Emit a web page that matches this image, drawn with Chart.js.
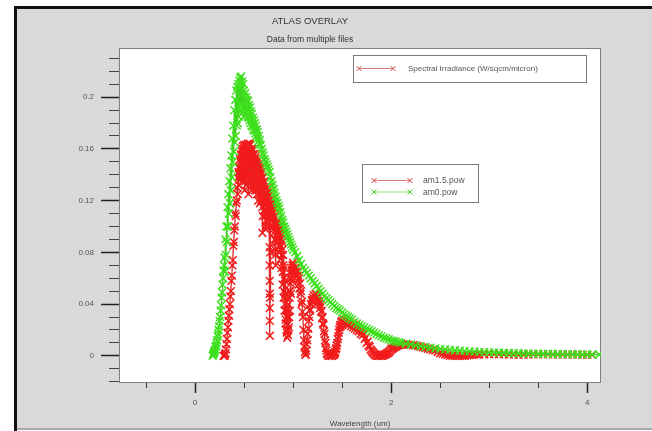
<!DOCTYPE html>
<html><head><meta charset="utf-8">
<script src="https://cdn.jsdelivr.net/npm/chart.js@4"></script>
<style>html,body{margin:0;padding:0;background:#fff;}canvas{display:block;}</style>
</head><body>
<canvas id="c" width="652" height="431"></canvas>
<script>
// ---------- DATA ----------
const chartTitle = 'ATLAS OVERLAY';
const chartSubtitle = 'Data from multiple files';
const xAxisTitle = 'Wavelength (um)';
const legendTopText = 'Spectral Irradiance (W/sqcm/micron)';
const seriesNames = ['am1.5.pow', 'am0.pow'];

const xTickValues = [0, 2, 4];
const xTickLabels = ['0', '2', '4'];
const xMinorTickValues = [-0.5, 0, 0.5, 1, 1.5, 2, 2.5, 3, 3.5, 4];
const yTickValues = [0, 0.04, 0.08, 0.12, 0.16, 0.2];
const yTickLabels = ['0', '0.04', '0.08', '0.12', '0.16', '0.2'];
const yMinorTickValues = [-0.02, -0.01, 0, 0.01, 0.02, 0.03, 0.04, 0.05, 0.06, 0.07, 0.08, 0.09, 0.1, 0.11, 0.12, 0.13, 0.14, 0.15, 0.16, 0.17, 0.18, 0.19, 0.2, 0.21, 0.22, 0.23];

// am1.5 spectrum (red): [wavelength um, irradiance]
const am15Points = [
[0.29,0],[0.30,0],[0.305,0.001],[0.31,0.002],[0.315,0.005],[0.32,0.009],[0.325,0.013],[0.33,0.018],[0.335,0.022],[0.34,0.027],
[0.345,0.031],[0.35,0.036],[0.355,0.04],[0.36,0.046],[0.365,0.05],[0.37,0.058],[0.375,0.062],[0.38,0.07],[0.385,0.074],[0.39,0.085],
[0.395,0.088],[0.40,0.097],[0.405,0.1],[0.41,0.11],[0.415,0.108],[0.42,0.118],[0.425,0.12],[0.43,0.13],[0.435,0.125],
[0.44,0.138],[0.4425,0.142],[0.445,0.132],[0.4475,0.146],[0.45,0.145],[0.4525,0.136],[0.455,0.14],[0.4575,0.152],[0.46,0.15],[0.4625,0.138],
[0.465,0.145],[0.4675,0.156],[0.47,0.155],[0.4725,0.14],[0.475,0.148],[0.4775,0.16],[0.48,0.158],[0.4825,0.135],[0.485,0.15],[0.4875,0.162],
[0.49,0.16],[0.4925,0.138],[0.495,0.145],[0.4975,0.163],[0.50,0.158],[0.5025,0.14],[0.505,0.128],[0.5075,0.155],[0.51,0.16],[0.5125,0.135],
[0.515,0.148],[0.5175,0.163],[0.52,0.162],[0.5225,0.132],[0.525,0.14],[0.5275,0.158],[0.53,0.163],[0.5325,0.138],[0.535,0.152],[0.5375,0.164],
[0.54,0.16],[0.5425,0.14],[0.545,0.125],[0.5475,0.155],[0.55,0.162],[0.5525,0.136],[0.555,0.148],[0.5575,0.164],[0.56,0.163],[0.5625,0.13],
[0.565,0.142],[0.5675,0.158],[0.57,0.16],[0.5725,0.14],[0.575,0.135],[0.5775,0.155],[0.58,0.158],[0.5825,0.128],[0.585,0.148],[0.5875,0.16],
[0.59,0.156],[0.5925,0.14],[0.595,0.13],[0.5975,0.152],[0.60,0.155],[0.6025,0.132],[0.605,0.145],[0.6075,0.156],[0.61,0.152],[0.6125,0.128],
[0.615,0.138],[0.6175,0.154],[0.62,0.15],[0.6225,0.135],[0.625,0.128],[0.6275,0.152],[0.63,0.148],[0.6325,0.125],[0.635,0.14],[0.6375,0.15],
[0.64,0.146],[0.6425,0.12],[0.645,0.135],[0.6475,0.148],[0.65,0.144],[0.6525,0.13],[0.655,0.125],[0.6575,0.146],[0.66,0.142],[0.6625,0.118],
[0.665,0.132],[0.6675,0.145],[0.67,0.14],[0.6725,0.12],[0.675,0.128],[0.6775,0.142],[0.68,0.138],[0.6825,0.122],[0.685,0.115],[0.687,0.095],
[0.69,0.108],[0.6925,0.12],[0.695,0.128],[0.6975,0.138],[0.70,0.134],[0.7025,0.112],[0.705,0.122],[0.7075,0.135],[0.71,0.13],[0.7125,0.108],
[0.715,0.112],[0.7175,0.098],[0.72,0.1],[0.7225,0.112],[0.725,0.105],[0.7275,0.118],[0.73,0.115],[0.7325,0.104],[0.735,0.122],[0.7375,0.13],
[0.74,0.126],[0.7425,0.11],[0.745,0.118],[0.7475,0.128],[0.75,0.124],[0.7525,0.108],[0.755,0.115],[0.7575,0.12],[0.759,0.1],[0.760,0.084],
[0.7605,0.07],[0.761,0.058],[0.7615,0.048],[0.762,0.037],[0.7625,0.027],[0.763,0.0155],[0.765,0.045],[0.767,0.08],[0.77,0.108],[0.7725,0.112],
[0.775,0.118],[0.7775,0.11],[0.78,0.12],[0.7825,0.105],[0.785,0.112],[0.7875,0.122],[0.79,0.118],[0.7925,0.1],[0.795,0.11],[0.7975,0.118],
[0.80,0.114],[0.8025,0.098],[0.805,0.106],[0.8075,0.114],[0.81,0.108],[0.8125,0.09],[0.815,0.096],[0.8175,0.078],[0.82,0.082],[0.8225,0.07],
[0.825,0.09],[0.8275,0.098],[0.83,0.1],[0.8325,0.088],[0.835,0.094],[0.8375,0.105],[0.84,0.103],[0.8425,0.088],[0.845,0.096],[0.8475,0.104],
[0.85,0.1],[0.8525,0.085],[0.855,0.092],[0.8575,0.1],[0.86,0.098],[0.8625,0.08],[0.865,0.09],[0.8675,0.099],[0.87,0.096],[0.8725,0.075],
[0.875,0.085],[0.8775,0.094],[0.88,0.09],[0.8825,0.068],[0.885,0.078],[0.8875,0.088],[0.89,0.082],[0.8925,0.055],[0.895,0.065],[0.8975,0.078],
[0.90,0.07],[0.9025,0.045],[0.905,0.05],[0.9075,0.068],[0.91,0.06],[0.9125,0.035],[0.915,0.04],[0.9175,0.058],[0.92,0.048],[0.9225,0.025],
[0.925,0.028],[0.9275,0.045],[0.93,0.035],[0.9325,0.02],[0.935,0.018],[0.9375,0.03],[0.94,0.014],[0.9425,0.03],[0.945,0.024],[0.9475,0.016],
[0.95,0.02],[0.9525,0.04],[0.955,0.034],[0.9575,0.022],[0.96,0.03],[0.9625,0.05],[0.965,0.045],[0.9675,0.035],[0.97,0.05],[0.9725,0.06],
[0.975,0.056],[0.9775,0.048],[0.98,0.06],[0.9825,0.066],[0.985,0.064],[0.9875,0.058],[0.99,0.068],[0.9925,0.07],[0.995,0.066],[0.9975,0.072],
[1.00,0.07],[1.005,0.066],[1.01,0.07],[1.015,0.065],[1.02,0.068],[1.025,0.063],[1.03,0.067],[1.035,0.061],[1.04,0.065],[1.045,0.058],
[1.05,0.062],[1.055,0.055],[1.06,0.06],[1.065,0.052],[1.07,0.056],[1.075,0.048],[1.08,0.05],[1.085,0.04],[1.09,0.042],[1.095,0.034],
[1.10,0.03],[1.105,0.02],[1.11,0.012],[1.115,0.007],[1.12,0.003],[1.125,0.001],[1.13,0.001],[1.135,0.004],[1.14,0.009],[1.145,0.012],
[1.15,0.017],[1.155,0.021],[1.16,0.027],[1.165,0.03],[1.17,0.035],[1.175,0.036],[1.18,0.04],[1.185,0.04],[1.19,0.043],[1.195,0.042],
[1.20,0.045],[1.205,0.043],[1.21,0.047],[1.215,0.044],[1.22,0.046],[1.225,0.043],[1.23,0.048],[1.235,0.044],[1.24,0.047],[1.245,0.043],
[1.25,0.046],[1.255,0.042],[1.26,0.045],[1.265,0.04],[1.27,0.042],[1.275,0.037],[1.28,0.039],[1.285,0.034],[1.29,0.035],[1.295,0.029],
[1.30,0.03],[1.305,0.025],[1.31,0.024],[1.315,0.019],[1.32,0.017],[1.325,0.012],[1.33,0.01],[1.335,0.006],[1.34,0.004],[1.345,0.002],
[1.35,0.001],[1.36,0],[1.37,0],[1.38,0.001],[1.39,0],[1.40,0],[1.41,0.001],[1.415,0.001],[1.42,0.001],[1.425,0.002],
[1.43,0.003],[1.435,0.005],[1.44,0.006],[1.445,0.008],[1.45,0.01],[1.455,0.013],[1.46,0.015],[1.465,0.018],[1.47,0.02],[1.475,0.022],
[1.48,0.024],[1.485,0.023],[1.49,0.026],[1.495,0.024],[1.50,0.027],[1.51,0.025],[1.52,0.028],[1.53,0.026],[1.54,0.028],[1.55,0.025],
[1.56,0.027],[1.57,0.024],[1.58,0.026],[1.59,0.023],[1.60,0.025],[1.61,0.022],[1.62,0.024],[1.63,0.021],[1.64,0.023],[1.65,0.02],
[1.66,0.022],[1.67,0.019],[1.68,0.02],[1.69,0.017],[1.70,0.019],[1.71,0.016],[1.72,0.017],[1.73,0.013],[1.74,0.014],[1.75,0.01],
[1.76,0.011],[1.77,0.008],[1.78,0.007],[1.79,0.005],[1.80,0.004],[1.81,0.003],[1.82,0.002],[1.83,0.001],[1.84,0.001],[1.85,0],
[1.86,0],[1.87,0],[1.88,0],[1.89,0.0005],[1.90,0],[1.91,0],[1.92,0.0005],[1.93,0.001],[1.94,0.001],[1.95,0.0015],
[1.96,0.002],[1.97,0.0025],[1.98,0.003],[1.99,0.004],[2.00,0.005],[2.01,0.0055],[2.02,0.006],[2.03,0.0065],[2.04,0.007],[2.05,0.0075],
[2.06,0.008],[2.07,0.0082],[2.08,0.0085],[2.09,0.0088],[2.10,0.009],[2.125,0.0088],[2.15,0.0089],[2.175,0.0086],[2.20,0.0085],[2.225,0.0082],
[2.25,0.008],[2.275,0.0075],[2.30,0.007],[2.325,0.0066],[2.35,0.006],[2.375,0.0055],[2.40,0.005],[2.425,0.0045],[2.45,0.004],[2.475,0.003],
[2.50,0.002],[2.525,0.0015],[2.55,0.001],[2.575,0.0005],[2.60,0],[2.625,0],[2.65,0],[2.675,0],[2.70,0],[2.725,0],
[2.75,0],[2.775,0.0003],[2.80,0.0005],[2.825,0.0008],[2.85,0.001],[2.875,0.001],[2.90,0.001],[2.95,0.0012],[3.00,0.0012],[3.05,0.0013],
[3.10,0.0012],[3.15,0.0011],[3.20,0.001],[3.25,0.0009],[3.30,0.0008],[3.35,0.0009],[3.40,0.001],[3.45,0.0011],[3.50,0.0012],[3.55,0.0011],
[3.60,0.0011],[3.65,0.001],[3.70,0.001],[3.75,0.001],[3.80,0.001],[3.85,0.0009],[3.90,0.0009],[3.95,0.0008],[4.00,0.0008],[4.05,0.0008]
];

// am0 spectrum (green): [wavelength um, irradiance]
const am0Points = [
[0.18,0],[0.185,0.001],[0.19,0.002],[0.195,0.003],[0.20,0.004],[0.205,0.005],[0.21,0.007],[0.215,0.008],[0.22,0.01],[0.225,0.012],
[0.23,0.015],[0.235,0.017],[0.24,0.02],[0.245,0.023],[0.25,0.027],[0.255,0.03],[0.26,0.035],[0.265,0.039],[0.27,0.045],[0.275,0.049],
[0.28,0.055],[0.285,0.06],[0.29,0.066],[0.295,0.07],[0.30,0.076],[0.305,0.065],[0.31,0.09],[0.315,0.078],[0.32,0.1],[0.325,0.088],
[0.33,0.115],[0.335,0.1],[0.34,0.125],[0.345,0.11],[0.35,0.135],[0.355,0.118],[0.36,0.145],[0.365,0.128],[0.37,0.155],[0.375,0.138],
[0.38,0.168],[0.385,0.15],[0.39,0.178],[0.395,0.158],[0.40,0.19],[0.405,0.165],[0.41,0.198],[0.415,0.17],[0.42,0.205],[0.425,0.178],
[0.43,0.208],[0.435,0.18],[0.44,0.21],[0.445,0.185],[0.45,0.213],[0.455,0.19],[0.46,0.215],[0.465,0.195],[0.47,0.216],[0.475,0.19],
[0.48,0.212],[0.485,0.192],[0.49,0.21],[0.495,0.185],[0.50,0.205],[0.505,0.19],[0.51,0.203],[0.515,0.186],[0.52,0.2],[0.525,0.188],
[0.53,0.198],[0.535,0.185],[0.54,0.197],[0.545,0.184],[0.55,0.194],[0.555,0.182],[0.56,0.192],[0.565,0.18],[0.57,0.189],[0.575,0.178],
[0.58,0.187],[0.585,0.177],[0.59,0.184],[0.595,0.175],[0.60,0.182],[0.605,0.174],[0.61,0.18],[0.615,0.172],[0.62,0.178],[0.625,0.17],
[0.63,0.175],[0.635,0.168],[0.64,0.173],[0.645,0.166],[0.65,0.17],[0.655,0.164],[0.66,0.167],[0.67,0.163],[0.68,0.16],[0.69,0.157],
[0.70,0.155],[0.71,0.152],[0.72,0.15],[0.73,0.148],[0.74,0.146],[0.75,0.144],
[0.76,0.142],[0.77,0.138],[0.78,0.135],[0.79,0.132],[0.80,0.129],[0.81,0.126],[0.82,0.123],[0.83,0.12],[0.84,0.118],[0.85,0.116],
[0.86,0.114],[0.87,0.111],[0.88,0.108],[0.89,0.105],[0.90,0.103],[0.91,0.1],[0.92,0.098],[0.93,0.096],[0.94,0.094],[0.95,0.092],
[0.96,0.09],[0.97,0.088],[0.98,0.086],[0.99,0.084],[1.00,0.082],[1.02,0.08],[1.04,0.077],[1.06,0.074],[1.08,0.071],[1.10,0.068],
[1.12,0.066],[1.14,0.064],[1.16,0.062],[1.18,0.06],[1.20,0.058],[1.22,0.056],[1.24,0.054],[1.26,0.052],[1.28,0.05],[1.30,0.048],
[1.32,0.046],[1.34,0.0445],[1.36,0.043],[1.38,0.0415],[1.40,0.04],[1.42,0.0385],[1.44,0.037],[1.46,0.036],[1.48,0.035],[1.50,0.0335],
[1.52,0.032],[1.54,0.031],[1.56,0.03],[1.58,0.029],[1.60,0.028],[1.625,0.0265],[1.65,0.025],[1.675,0.024],[1.70,0.023],[1.725,0.022],
[1.75,0.021],[1.775,0.02],[1.80,0.019],[1.825,0.018],[1.85,0.017],[1.875,0.016],[1.90,0.015],[1.925,0.014],[1.95,0.0135],[1.975,0.0128],
[2.00,0.012],[2.025,0.0115],[2.05,0.011],[2.075,0.0106],[2.10,0.0102],[2.15,0.0095],[2.20,0.0088],[2.25,0.0081],[2.30,0.0075],[2.35,0.0069],
[2.40,0.0063],[2.45,0.0058],[2.50,0.0054],[2.55,0.005],[2.60,0.0046],[2.65,0.0043],[2.70,0.004],[2.75,0.0037],[2.80,0.0035],[2.85,0.0033],
[2.90,0.0031],[2.95,0.0029],[3.00,0.0027],[3.05,0.0026],[3.10,0.0025],[3.15,0.0024],[3.20,0.0022],[3.25,0.0021],[3.30,0.002],[3.35,0.0019],
[3.40,0.0018],[3.45,0.0017],[3.50,0.0016],[3.55,0.0016],[3.60,0.0015],[3.65,0.0014],[3.70,0.0014],[3.75,0.0013],[3.80,0.0013],[3.85,0.0012],
[3.90,0.0012],[3.95,0.0011],[4.00,0.0011],[4.05,0.0011],[4.12,0.001]
];

const xMin = -0.776, xMax = 4.14;
const yMin = -0.021, yMax = 0.238;

// ---------- CHART ----------
const FONT = '"Liberation Sans", Arial, sans-serif';

const framePlugin = {
  id: 'frame',
  beforeDraw(chart) {
    const ctx = chart.ctx, a = chart.chartArea;
    ctx.save();
    ctx.fillStyle = '#ffffff'; ctx.fillRect(0, 0, 652, 431);
    ctx.fillStyle = '#d9d9d9'; ctx.fillRect(17, 9, 635, 420);
    ctx.fillStyle = '#111111'; ctx.fillRect(14, 6, 3, 425); ctx.fillRect(14, 6, 638, 3);
    ctx.fillStyle = '#a8a8a8'; ctx.fillRect(17, 428, 635, 2);
    ctx.fillStyle = '#ffffff'; ctx.fillRect(a.left, a.top, a.right - a.left, a.bottom - a.top);
    ctx.strokeStyle = '#808080'; ctx.lineWidth = 1;
    ctx.strokeRect(a.left + 0.5, a.top + 0.5, a.right - a.left - 1, a.bottom - a.top - 1);
    ctx.restore();
  }
};

function cross(ctx, x, y, r) {
  ctx.beginPath();
  ctx.moveTo(x - r, y - r); ctx.lineTo(x + r, y + r);
  ctx.moveTo(x - r, y + r); ctx.lineTo(x + r, y - r);
  ctx.stroke();
}

const legendPlugin = {
  id: 'boxLegends',
  afterDatasetsDraw(chart) {
    const ctx = chart.ctx;
    ctx.save();
    ctx.lineWidth = 1;
    ctx.fillStyle = '#ffffff'; ctx.fillRect(353.5, 55.5, 233, 27);
    ctx.strokeStyle = '#7a7a7a'; ctx.strokeRect(353.5, 55.5, 233, 27);
    ctx.strokeStyle = '#d88080';
    ctx.beginPath(); ctx.moveTo(359, 68.5); ctx.lineTo(393, 68.5); ctx.stroke();
    ctx.strokeStyle = '#d05050'; cross(ctx, 359, 68.5, 2.5); cross(ctx, 393, 68.5, 2.5);
    ctx.fillStyle = '#555'; ctx.font = '8px ' + FONT; ctx.textBaseline = 'middle'; ctx.textAlign = 'left';
    ctx.fillText(legendTopText, 408, 69);
    ctx.fillStyle = '#ffffff'; ctx.fillRect(362.5, 164.5, 116, 38);
    ctx.strokeStyle = '#7a7a7a'; ctx.strokeRect(362.5, 164.5, 116, 38);
    const rows = [{y: 180, line: '#e08080', mk: '#d04040'}, {y: 191.5, line: '#90e070', mk: '#50d030'}];
    rows.forEach((r, i) => {
      ctx.strokeStyle = r.line;
      ctx.beginPath(); ctx.moveTo(374, r.y + 0.5); ctx.lineTo(410, r.y + 0.5); ctx.stroke();
      ctx.strokeStyle = r.mk; cross(ctx, 374, r.y + 0.5, 2.5); cross(ctx, 410, r.y + 0.5, 2.5);
      ctx.fillStyle = '#555'; ctx.font = '8.5px ' + FONT;
      ctx.fillText(seriesNames[i], 423, r.y + 1);
    });
    ctx.restore();
  }
};

function setTicks(values) {
  return function(scale) { scale.ticks = values.map(v => ({value: v})); };
}

const data = {
  datasets: [
    {
      label: seriesNames[0],
      data: am15Points.map(p => ({x: p[0], y: p[1]})),
      borderColor: '#e02828', borderWidth: 1.3,
      pointStyle: 'crossRot', pointRadius: 5.5, pointBorderWidth: 1.5,
      pointBorderColor: '#f21c1c', pointBackgroundColor: '#f21c1c',
      order: 2, tension: 0
    },
    {
      label: seriesNames[1],
      data: am0Points.map(p => ({x: p[0], y: p[1]})),
      borderColor: '#40d020', borderWidth: 1.3,
      pointStyle: 'crossRot', pointRadius: 5.5, pointBorderWidth: 1.5,
      pointBorderColor: '#3ee01e', pointBackgroundColor: '#3ee01e',
      order: 1, tension: 0
    }
  ]
};

new Chart(document.getElementById('c'), {
  type: 'line',
  data: data,
  plugins: [framePlugin, legendPlugin],
  options: {
    responsive: false, animation: false, devicePixelRatio: 1,
    layout: {padding: {left: 19, right: 51, top: 0, bottom: 0}},
    plugins: {
      legend: {display: false},
      tooltip: {enabled: false},
      title: {display: true, text: chartTitle, color: '#333', font: {family: FONT, size: 9.5, weight: 'normal'}, padding: {top: 16, bottom: 2}},
      subtitle: {display: true, text: chartSubtitle, color: '#333', font: {family: FONT, size: 8.5, weight: 'normal'}, padding: {top: 5.4, bottom: 3}}
    },
    scales: {
      xMinor: {
        type: 'linear', position: 'bottom', weight: 0, min: xMin, max: xMax,
        afterBuildTicks: setTicks(xMinorTickValues),
        ticks: {display: false},
        grid: {drawOnChartArea: false, drawTicks: true, tickLength: 5, tickColor: '#333', tickWidth: 1},
        border: {display: false},
        afterFit(s) { s.height = 0; }
      },
      x: {
        type: 'linear', position: 'bottom', weight: 1, min: xMin, max: xMax,
        afterBuildTicks: setTicks(xTickValues),
        ticks: {color: '#555', font: {family: FONT, size: 8}, padding: 5, maxRotation: 0,
          callback: (v, i) => xTickLabels[i]},
        grid: {drawOnChartArea: false, drawTicks: true, tickLength: 10, tickColor: '#222', tickWidth: 1.5},
        border: {display: false},
        title: {display: true, text: xAxisTitle, color: '#444', font: {family: FONT, size: 8}, padding: {top: 0, bottom: 2}},
        afterFit(s) { s.height = 48; }
      },
      yMinor: {
        type: 'linear', position: 'left', weight: 0, min: yMin, max: yMax,
        afterBuildTicks: setTicks(yMinorTickValues),
        ticks: {display: false},
        grid: {drawOnChartArea: false, drawTicks: true, tickLength: 10, tickColor: '#444', tickWidth: 1},
        border: {display: false},
        afterFit(s) { s.width = 0; }
      },
      y: {
        type: 'linear', position: 'left', weight: 1, min: yMin, max: yMax,
        afterBuildTicks: setTicks(yTickValues),
        ticks: {color: '#555', font: {family: FONT, size: 8}, padding: 7,
          callback: (v, i) => yTickLabels[i]},
        grid: {drawOnChartArea: false, drawTicks: true, tickLength: 18, tickColor: '#222', tickWidth: 1.5},
        border: {display: false},
        afterFit(s) { s.width = 100; }
      }
    }
  }
});
</script>
</body></html>
